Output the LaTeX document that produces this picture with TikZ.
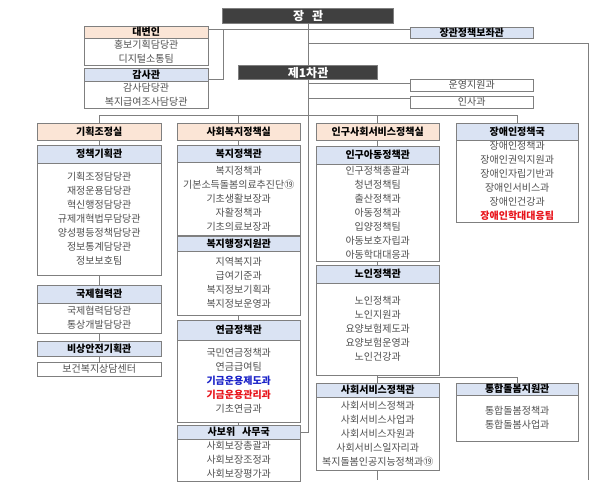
\documentclass[tikz,border=0pt]{standalone}
\usepackage{fontspec}
\setmainfont{Noto Sans CJK KR}
\usepackage{tikz}
\usetikzlibrary{backgrounds}

\definecolor{peach}{HTML}{FBE5D6}
\definecolor{paleblue}{HTML}{DAE3F3}
\definecolor{darkbox}{HTML}{404040}
\definecolor{linegray}{HTML}{7F7F7F}
\definecolor{itemgray}{HTML}{505050}
\definecolor{alertred}{HTML}{E8141B}
\definecolor{fundblue}{HTML}{1A22C8}

\begin{document}
\begin{tikzpicture}[x=1pt,y=-1pt,
    box/.style={draw=linegray, inner sep=0pt, anchor=north west,
      minimum width=124pt, text width=124pt, align=center},
    chief/.style={box, fill=darkbox, line width=1.2pt, text=white,
      font=\fontsize{12}{14}\selectfont\bfseries},
    office/.style={box, fill=peach, font=\fontsize{10}{12}\selectfont\bfseries},
    head/.style={box, fill=paleblue, font=\fontsize{10}{12}\selectfont\bfseries},
    unit/.style={box, fill=white, text=itemgray, font=\fontsize{10}{14}\selectfont},
    link/.style={draw=linegray, line width=0.6pt}]
  \useasboundingbox (0,0) rectangle (600,483);

  % top
  \node[chief, minimum width=171pt, text width=171pt, minimum height=15pt] (jg) at (222,8) {장\hspace{8pt}관};
  \node[chief, minimum width=139pt, text width=139pt, minimum height=14pt] (vm1) at (238,65) {제1차관};
  \node[office, minimum height=12pt] (dbh) at (84,26) {대변인};
  \node[unit, minimum height=27pt] (dbb) at (84,38) {홍보기획담당관\\디지털소통팀};
  \node[head, minimum height=13pt] (gsh) at (84,68) {감사관};
  \node[unit, minimum height=27pt] (gsb) at (84,81) {감사담당관\\복지급여조사담당관};
  \node[head, minimum width=123pt, text width=123pt, minimum height=11pt] (bojwa) at (410,27) {장관정책보좌관};
  \node[unit, minimum width=123pt, text width=123pt, minimum height=12pt] (ops) at (410,79) {운영지원과};
  \node[unit, minimum width=123pt, text width=123pt, minimum height=12pt] (insa) at (410,96) {인사과};

  % 기획조정실
  \node[office, minimum height=17pt] (gj) at (37,123) {기획조정실};
  \node[head, minimum height=18pt] (jgh) at (37,145) {정책기획관};
  \node[unit, minimum height=112pt] (jgb) at (37,163) {기획조정담당관\\재정운용담당관\\혁신행정담당관\\규제개혁법무담당관\\양성평등정책담당관\\정보통계담당관\\정보보호팀};
  \node[head, minimum height=18pt] (gih) at (37,285) {국제협력관};
  \node[unit, minimum height=30pt] (gib) at (37,303) {국제협력담당관\\통상개발담당관};
  \node[head, minimum height=15pt] (bsh) at (37,341) {비상안전기획관};
  \node[unit, minimum height=14pt] (sangdam) at (37,362) {보건복지상담센터};

  % 사회복지정책실
  \node[office, minimum width=123pt, text width=123pt, minimum height=17pt] (sb) at (177,123) {사회복지정책실};
  \node[head, minimum width=123pt, text width=123pt, minimum height=17pt] (bjh) at (177,145) {복지정책관};
  \node[unit, minimum width=123pt, text width=123pt, minimum height=73pt] (bjb) at (177,162) {복지정책과\\기본소득돌봄의료추진단⑲\\기초생활보장과\\자활정책과\\기초의료보장과};
  \node[head, minimum width=123pt, text width=123pt, minimum height=15pt] (bhh) at (177,236) {복지행정지원관};
  \node[unit, minimum width=123pt, text width=123pt, minimum height=64pt] (bhb) at (177,251) {지역복지과\\급여기준과\\복지정보기획과\\복지정보운영과};
  \node[head, minimum width=123pt, text width=123pt, minimum height=20pt] (ygh) at (177,320) {연금정책관};
  \node[unit, minimum width=123pt, text width=123pt, minimum height=82pt] (ygb) at (177,340) {국민연금정책과\\연금급여팀\\{\color{fundblue}\bfseries 기금운용제도과}\\{\color{alertred}\bfseries 기금운용관리과}\\기초연금과};
  \node[head, minimum width=123pt, text width=123pt, minimum height=14pt] (sbwh) at (177,425) {사보위\hspace{7pt}사무국};
  \node[unit, minimum width=123pt, text width=123pt, minimum height=42pt] (sbwb) at (177,439) {사회보장총괄과\\사회보장조정과\\사회보장평가과};

  % 인구사회서비스정책실
  \node[office, minimum width=123pt, text width=123pt, minimum height=17pt] (ig) at (316,123) {인구사회서비스정책실};
  \node[head, minimum width=123pt, text width=123pt, minimum height=18pt] (iah) at (316,146) {인구아동정책관};
  \node[unit, minimum width=123pt, text width=123pt, minimum height=97pt] (iab) at (316,164) {인구정책총괄과\\청년정책팀\\출산정책과\\아동정책과\\입양정책팀\\아동보호자립과\\아동학대대응과};
  \node[head, minimum width=123pt, text width=123pt, minimum height=18pt] (nih) at (316,265) {노인정책관};
  \node[unit, minimum width=123pt, text width=123pt, minimum height=92pt] (nib) at (316,283) {노인정책과\\노인지원과\\요양보험제도과\\요양보험운영과\\노인건강과};
  \node[head, minimum width=123pt, text width=123pt, minimum height=14pt] (ssh) at (316,383) {사회서비스정책관};
  \node[unit, minimum width=123pt, text width=123pt, minimum height=73pt] (ssb) at (316,397) {사회서비스정책과\\사회서비스사업과\\사회서비스자원과\\사회서비스일자리과\\복지돌봄인공지능정책과⑲};

  % 장애인정책국, 통합돌봄지원관
  \node[head, minimum width=122pt, text width=122pt, minimum height=17pt] (jah) at (456,123) {장애인정책국};
  \node[unit, minimum width=122pt, text width=122pt, minimum height=82pt] (jab) at (456,140) {장애인정책과\\장애인권익지원과\\장애인자립기반과\\장애인서비스과\\장애인건강과\\{\color{alertred}\bfseries 장애인학대대응팀}};
  \node[head, minimum width=122pt, text width=122pt, minimum height=12pt] (tdh) at (456,383) {통합돌봄지원관};
  \node[unit, minimum width=122pt, text width=122pt, minimum height=46pt] (tdb) at (456,395) {통합돌봄정책과\\통합돌봄사업과};

  \coordinate (rend) at (588,480);
  \coordinate (cend) at (ig.north |- 0,480);

  \begin{scope}[on background layer]
    \draw[link] (jg.south) |- (sbwh.east);
    \draw[link] ([yshift=-3pt]dbh.north east) -- ([yshift=-3pt]dbh.north east -| bojwa.west);
    \draw[link] ([yshift=-3pt]dbh.north east -| 223,0) |- ([yshift=2pt]gsh.south east);
    \draw[link] (jg.south |- 0,43) -| (rend);
    \draw[link] ([yshift=-4pt]ops.north west -| jg.south) -- ([yshift=-4pt]ops.north west);
    \draw[link] ([yshift=-2pt]insa.north west -| jg.south) -- ([yshift=-2pt]insa.north west);
    \draw[link] (gj.north |- 0,115) -- (jah.north |- 0,115);
    \draw[link] (gj.north |- 0,115) -- (sangdam.north);
    \draw[link] (sb.north |- 0,115) -- (sbwh.north);
    \draw[link] (ig.north |- 0,115) -- (cend);
    \draw[link] (jah.north |- 0,115) -- (jah.north);
    \draw[link] ([yshift=-2pt]nib.south) -| (tdh.north);
  \end{scope}
\end{tikzpicture}
\end{document}
